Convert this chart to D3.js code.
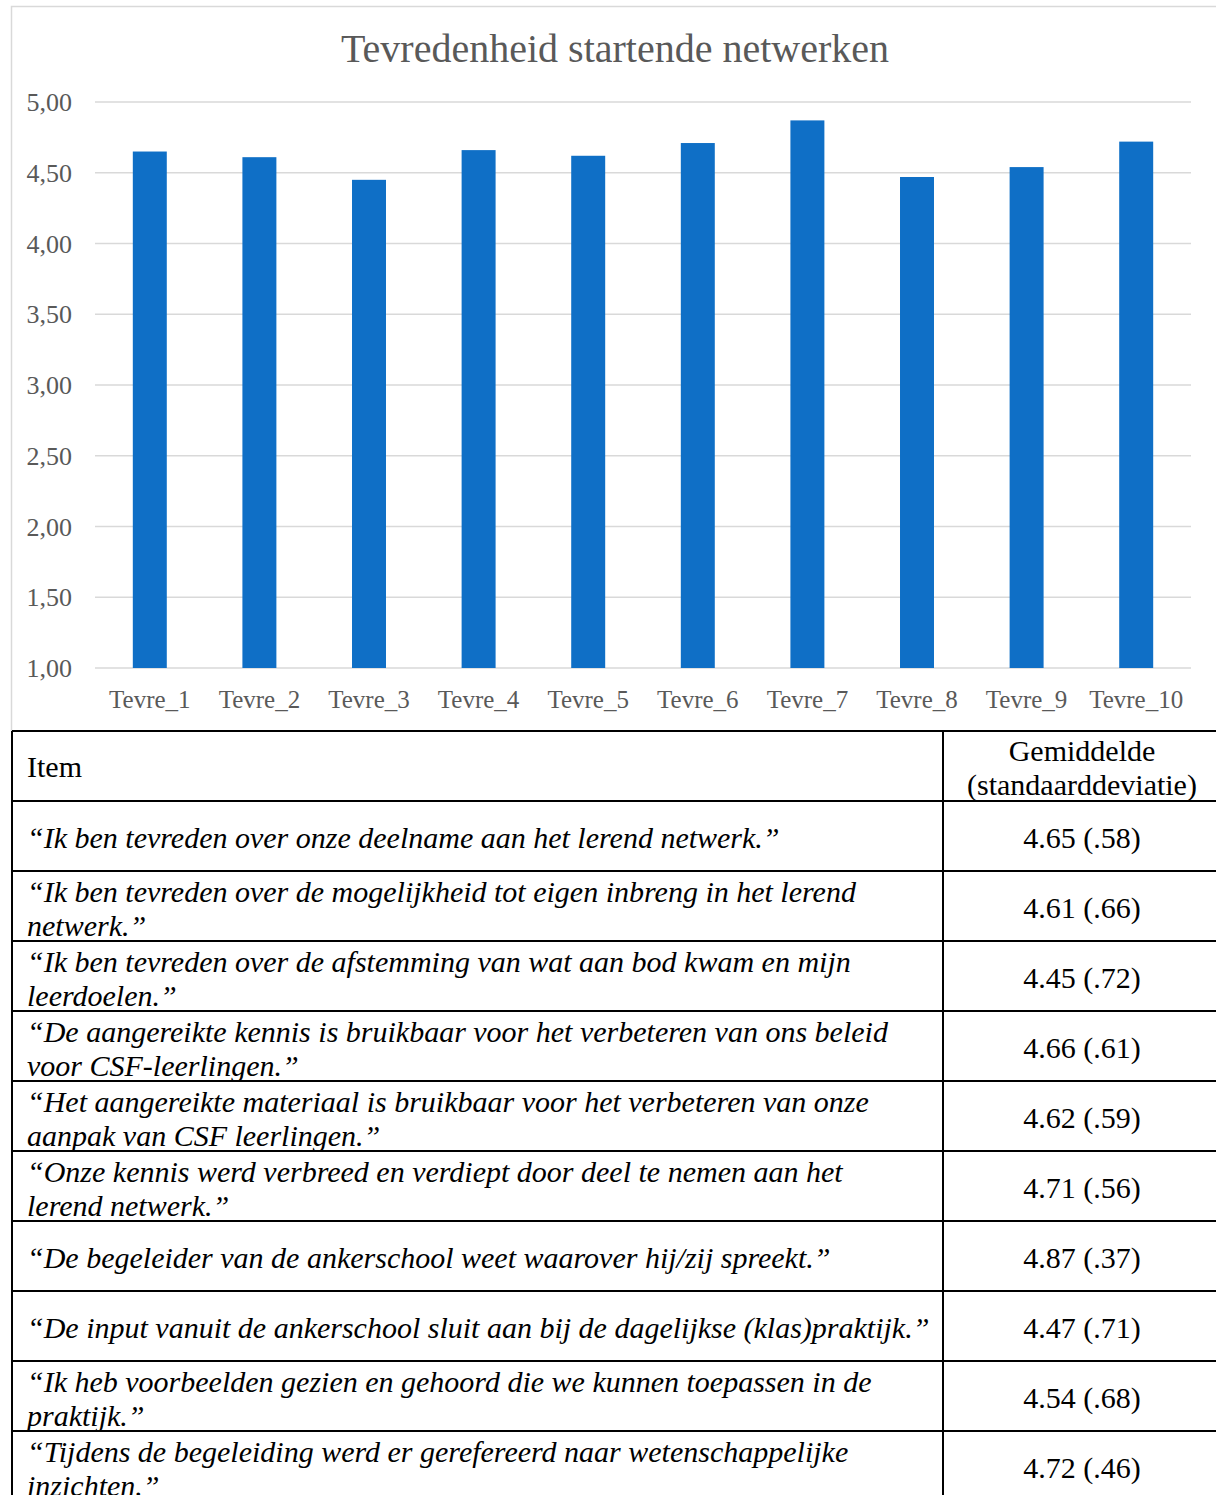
<!DOCTYPE html>
<html>
<head>
<meta charset="utf-8">
<script src="https://cdn.jsdelivr.net/npm/d3@7"></script>
<style>
  body { margin: 0; background: #fff; }
  svg text { font-family: 'Liberation Serif', 'DejaVu Serif', serif; }
</style>
</head>
<body>
<script>
// chart data
var categories = ['Tevre_1', 'Tevre_2', 'Tevre_3', 'Tevre_4', 'Tevre_5',
                  'Tevre_6', 'Tevre_7', 'Tevre_8', 'Tevre_9', 'Tevre_10'];
var means = [4.65, 4.61, 4.45, 4.66, 4.62, 4.71, 4.87, 4.47, 4.54, 4.72];
var sds = ['.58', '.66', '.72', '.61', '.59', '.56', '.37', '.71', '.68', '.46'];
var yTicks = [1, 1.5, 2, 2.5, 3, 3.5, 4, 4.5, 5];
var title = 'Tevredenheid startende netwerken';

// table text (line breaks as in the document)
var headerItem = 'Item';
var headerValue = ['Gemiddelde', '(standaarddeviatie)'];
var items = [
  ['\u201cIk ben tevreden over onze deelname aan het lerend netwerk.\u201d'],
  ['\u201cIk ben tevreden over de mogelijkheid tot eigen inbreng in het lerend', 'netwerk.\u201d'],
  ['\u201cIk ben tevreden over de afstemming van wat aan bod kwam en mijn', 'leerdoelen.\u201d'],
  ['\u201cDe aangereikte kennis is bruikbaar voor het verbeteren van ons beleid', 'voor CSF-leerlingen.\u201d'],
  ['\u201cHet aangereikte materiaal is bruikbaar voor het verbeteren van onze', 'aanpak van CSF leerlingen.\u201d'],
  ['\u201cOnze kennis werd verbreed en verdiept door deel te nemen aan het', 'lerend netwerk.\u201d'],
  ['\u201cDe begeleider van de ankerschool weet waarover hij/zij spreekt.\u201d'],
  ['\u201cDe input vanuit de ankerschool sluit aan bij de dagelijkse (klas)praktijk.\u201d'],
  ['\u201cIk heb voorbeelden gezien en gehoord die we kunnen toepassen in de', 'praktijk.\u201d'],
  ['\u201cTijdens de begeleiding werd er gerefereerd naar wetenschappelijke', 'inzichten.\u201d']
];

var W = 1216, H = 1495;
var svg = d3.select('body').append('svg')
    .attr('width', W).attr('height', H);

// chart frame
svg.append('rect')
    .attr('x', 11.5).attr('y', 6.5)
    .attr('width', 1220).attr('height', 740)
    .attr('fill', 'none').attr('stroke', '#d9d9d9').attr('stroke-width', 1.5);

var x = d3.scaleBand().domain(categories).range([95, 1191]).paddingInner(0.69).paddingOuter(0.345);
var y = d3.scaleLinear().domain([1, 5]).range([668, 102]);

svg.append('text')
    .attr('x', 615).attr('y', 62)
    .attr('text-anchor', 'middle')
    .style('font-size', '40px')
    .style('fill', '#595959')
    .text(title);

// gridlines
svg.append('g').selectAll('line').data(yTicks).enter().append('line')
    .attr('x1', 95).attr('x2', 1191)
    .attr('y1', function(d) { return y(d); })
    .attr('y2', function(d) { return y(d); })
    .attr('stroke', '#d9d9d9').attr('stroke-width', 1.5);

// y labels
svg.append('g').selectAll('text').data(yTicks).enter().append('text')
    .attr('x', 72).attr('y', function(d) { return y(d); })
    .attr('dy', '0.35em')
    .attr('text-anchor', 'end')
    .style('font-size', '26px').style('fill', '#595959')
    .text(function(d) { return d3.format('.2f')(d).replace('.', ','); });

// bars
svg.append('g').selectAll('rect').data(means).enter().append('rect')
    .attr('x', function(d, i) { return x(categories[i]); })
    .attr('width', x.bandwidth())
    .attr('y', function(d) { return y(d); })
    .attr('height', function(d) { return y(1) - y(d); })
    .attr('fill', '#0f6fc6');

// x labels
svg.append('g').selectAll('text').data(categories).enter().append('text')
    .attr('x', function(d) { return x(d) + x.bandwidth() / 2; })
    .attr('y', 699).attr('dy', '0.35em')
    .attr('text-anchor', 'middle')
    .style('font-size', '25px').style('fill', '#595959')
    .text(function(d) { return d; });

// table
var tLeft = 12, tDiv = 943, tRight = 1230, tTop = 731, rowH = 70;
var tbl = svg.append('g');
tbl.append('rect').attr('x', 0).attr('y', tTop).attr('width', W).attr('height', H - tTop).attr('fill', '#fff');

tbl.append('text')
    .attr('x', 27).attr('y', tTop + rowH / 2).attr('dy', '0.35em')
    .style('font-size', '30px')
    .text(headerItem);
tbl.append('g').selectAll('text').data(headerValue).enter().append('text')
    .attr('x', 1082).attr('y', function(d, i) { return tTop + 19 + i * 34; }).attr('dy', '0.35em')
    .attr('text-anchor', 'middle')
    .style('font-size', '30px')
    .text(function(d) { return d; });

var rows = tbl.selectAll('g.row').data(items).enter().append('g')
    .attr('class', 'row')
    .attr('transform', function(d, i) { return 'translate(0,' + (tTop + rowH * (i + 1)) + ')'; });

rows.each(function(lines, i) {
  var g = d3.select(this);
  var n = lines.length;
  g.selectAll('text.it').data(lines).enter().append('text')
      .attr('class', 'it')
      .attr('x', 27)
      .attr('y', function(d, j) { return n === 1 ? rowH / 2 + 1 : 20 + j * 34; })
      .attr('dy', '0.35em')
      .style('font-size', '30px').style('font-style', 'italic')
      .text(function(d) { return d; });
  g.append('text')
      .attr('x', 1082).attr('y', rowH / 2 + 1).attr('dy', '0.35em')
      .attr('text-anchor', 'middle')
      .style('font-size', '30px')
      .text(d3.format('.2f')(means[i]) + ' (' + sds[i] + ')');
});

// table borders
var hLines = d3.range(items.length + 2).map(function(i) { return tTop + i * rowH; });
tbl.append('g').selectAll('line').data(hLines).enter().append('line')
    .attr('x1', tLeft).attr('x2', tRight)
    .attr('y1', function(d) { return d; }).attr('y2', function(d) { return d; })
    .attr('stroke', '#000').attr('stroke-width', 2);
tbl.append('g').selectAll('line').data([tLeft, tDiv]).enter().append('line')
    .attr('x1', function(d) { return d; }).attr('x2', function(d) { return d; })
    .attr('y1', tTop).attr('y2', H + 10)
    .attr('stroke', '#000').attr('stroke-width', 2);
</script>
</body>
</html>
